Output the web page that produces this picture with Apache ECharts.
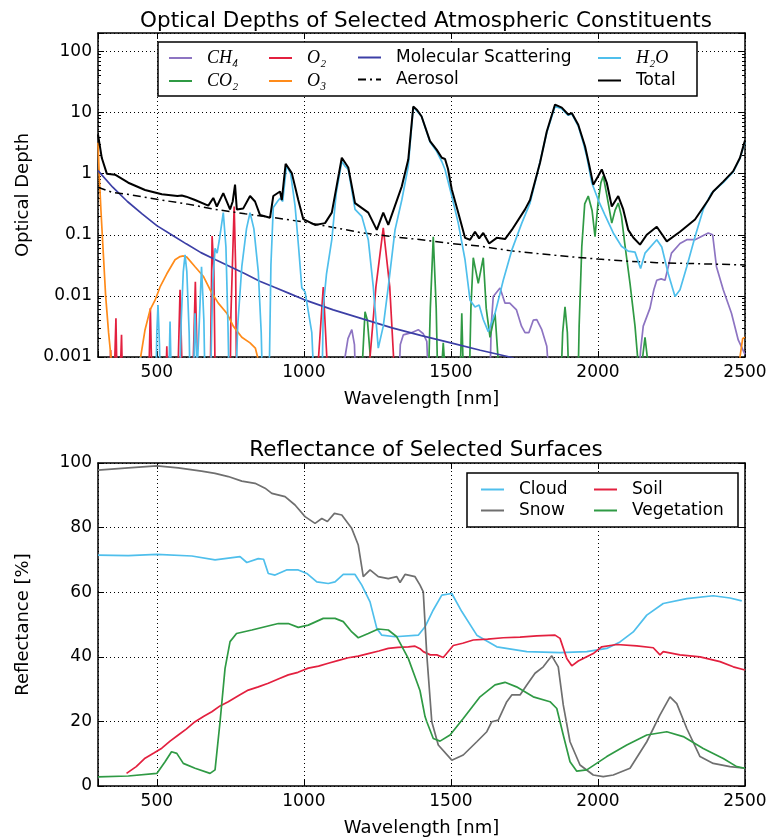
<!DOCTYPE html>
<html><head><meta charset="utf-8">
<script src="https://cdn.jsdelivr.net/npm/echarts@6/dist/echarts.min.js"></script>
<style>html,body{margin:0;padding:0;background:#fff}#c{width:774px;height:838px}</style>
</head><body><div id="c"></div>
<script>
// ---------- tick labels ----------
const wavelengthTicks = [500, 1000, 1500, 2000, 2500];
const odTickLabels = ['0.001', '0.01', '0.1', '1', '10', '100'];
const reflTicks = [0, 20, 40, 60, 80, 100];

// ---------- optical depth series: [wavelength nm, optical depth] ----------
const ch4 = [[1125,1e-4],[1140,0.001],[1150,0.002],[1163,0.0028],[1172,0.0016],[1180,1e-4],
  [1318,1e-4],[1328,0.0016],[1338,0.0023],[1366,0.0025],[1389,0.0028],[1406,0.0024],[1418,0.0018],[1429,1e-4],
  [1630,1e-4],[1637,0.0032],[1644,0.0098],[1667,0.0135],[1684,0.0076],[1700,0.0076],[1723,0.0059],[1740,0.0032],[1752,0.0025],[1765,0.0025],[1780,0.004],[1792,0.0041],[1809,0.0028],[1826,0.0015],[1843,1e-4],
  [2132,1e-4],[2145,0.0013],[2154,0.0032],[2177,0.0063],[2190,0.0126],[2200,0.018],[2215,0.019],[2228,0.018],[2250,0.050],[2279,0.072],[2302,0.083],[2330,0.083],[2350,0.093],[2375,0.107],[2390,0.1],[2403,0.030],[2426,0.0126],[2454,0.0052],[2477,0.0019],[2500,0.0011]];

const co2 = [[1190,1e-4],[1200,0.001],[1208,0.0055],[1216,0.004],[1226,0.001],[1236,1e-4],
  [1420,1e-4],[1430,0.0063],[1440,0.093],[1450,0.0063],[1458,1e-4],[1468,6e-4],[1474,0.0017],[1480,6e-4],[1488,1e-4],
  [1528,1e-4],[1537,0.0052],[1546,1e-4],[1560,1e-4],[1568,0.0063],[1576,0.042],[1593,0.016],[1610,0.042],[1620,0.0063],[1633,0.0021],[1650,0.0052],[1660,0.001],[1668,1e-4],
  [1870,1e-4],[1880,0.0025],[1888,0.0066],[1896,0.0025],[1905,1e-4],
  [1930,1e-4],[1936,0.0032],[1945,0.063],[1955,0.32],[1967,0.43],[1980,0.25],[1990,0.093],[2000,0.32],[2010,0.71],[2018,0.91],[2030,0.45],[2047,0.155],[2058,0.25],[2069,0.33],[2080,0.2],[2090,0.079],[2109,0.016],[2126,0.0032],[2140,5e-4],[2146,1e-4],[2152,0.001],[2160,0.0021],[2170,8e-4],[2178,1e-4]];

const o2 = [[335,1e-4],[343,0.0013],[350,1e-4],[356,6e-4],[361,0.0043],[367,1e-4],[375,4e-4],[380,0.0023],[386,1e-4],
  [470,1e-4],[478,0.0063],[486,1e-4],[527,1e-4],[534,0.0015],[540,1e-4],[568,1e-4],[579,0.0126],[590,1e-4],
  [619,1e-4],[631,0.017],[642,1e-4],[680,1e-4],[688,0.095],[694,0.025],[700,1e-4],
  [748,1e-4],[752,0.005],[757,0.005],[763,0.29],[768,0.03],[772,1e-4],
  [1040,1e-4],[1050,0.001],[1066,0.014],[1078,0.001],[1090,1e-4],
  [1205,1e-4],[1225,0.001],[1245,0.014],[1270,0.13],[1292,0.014],[1305,0.001],[1318,1e-4]];

const o3 = [[300,3.2],[304,1.0],[310,0.25],[318,0.05],[326,0.01],[336,0.0025],[346,8e-4],[352,1e-4],
  [430,1e-4],[445,0.001],[460,0.0028],[477,0.0059],[494,0.0085],[511,0.014],[534,0.023],[562,0.039],[579,0.044],[590,0.045],[602,0.043],[630,0.030],[658,0.021],[681,0.0126],[709,0.0076],[738,0.0052],[760,0.0032],[789,0.0021],[817,0.0017],[835,0.0014],[845,9e-4],[860,1e-4],
  [2470,1e-4],[2483,0.001],[2492,0.002],[2500,0.0021]];

const molecular = [[300,1.12],[350,0.60],[400,0.35],[450,0.22],[500,0.141],[550,0.100],[600,0.071],[650,0.051],[700,0.039],[750,0.030],[800,0.023],[850,0.0174],[900,0.0138],[950,0.0110],[1000,0.0087],[1100,0.0059],[1200,0.0042],[1300,0.0030],[1400,0.00224],[1500,0.0017],[1600,0.00129],[1700,0.00100],[1720,0.00093]];

const aerosol = [[300,0.60],[350,0.49],[400,0.46],[500,0.38],[600,0.32],[700,0.26],[800,0.22],[900,0.19],[1000,0.162],[1100,0.132],[1200,0.107],[1300,0.093],[1400,0.083],[1500,0.072],[1600,0.065],[1700,0.055],[1800,0.049],[1900,0.044],[2000,0.040],[2100,0.037],[2200,0.035],[2300,0.034],[2400,0.033],[2500,0.032]];

const h2o = [[435,1e-4],[444,0.001],[452,1e-4],[495,1e-4],[500,0.0025],[504,0.0071],[509,0.0016],[514,1e-4],[538,1e-4],[545,0.0038],[552,1e-4],
  [575,1e-4],[583,0.004],[590,0.025],[596,0.047],[602,0.025],[610,0.0025],[615,1e-4],[622,1e-4],[630,0.0052],[637,6e-4],[643,0.0025],[652,0.030],[660,0.004],[666,1e-4],
  [680,1e-4],[690,0.016],[698,0.060],[705,0.050],[712,0.079],[726,0.23],[735,0.063],[742,0.0032],[748,1e-4],[765,1e-4],[775,0.0032],[789,0.030],[805,0.126],[817,0.23],[830,0.126],[845,0.025],[855,0.0025],[862,1e-4],
  [880,1e-4],[888,0.032],[896,0.28],[912,0.36],[920,0.40],[928,0.35],[941,1.35],[955,1.0],[970,0.30],[982,0.063],[993,0.0135],[1004,0.0117],[1027,0.0025],[1040,1e-4],
  [1060,1e-4],[1066,0.0066],[1077,0.023],[1095,0.083],[1110,0.48],[1129,1.58],[1140,1.32],[1151,1.17],[1174,0.26],[1197,0.20],[1219,0.083],[1236,0.014],[1253,0.0014],[1270,0.0032],[1287,0.014],[1310,0.12],[1333,0.37],[1355,1.32],[1372,12.3],[1385,10.5],[1400,8.7],[1429,3.3],[1452,2.3],[1469,1.58],[1480,1.17],[1503,0.43],[1525,0.155],[1548,0.039],[1565,0.0085],[1582,0.0066],[1596,0.0071],[1610,0.0041],[1627,0.0026],[1650,0.0052],[1667,0.011],[1678,0.018],[1707,0.056],[1741,0.155],[1769,0.33],[1797,1.17],[1826,4.7],[1854,12.6],[1877,11.5],[1899,9.0],[1911,9.5],[1933,6.0],[1950,3.2],[1962,1.9],[1979,0.71],[2001,0.37],[2024,0.21],[2052,0.107],[2080,0.065],[2103,0.054],[2126,0.052],[2145,0.028],[2160,0.05],[2200,0.083],[2217,0.063],[2239,0.023],[2262,0.0098],[2279,0.0126],[2302,0.030],[2330,0.093],[2358,0.26],[2386,0.48],[2426,0.71],[2460,1.07],[2483,1.78],[2500,3.3]];

const total = [[300,4.4],[313,1.8],[330,1.0],[358,0.96],[403,0.71],[460,0.54],[517,0.46],[570,0.43],[585,0.44],[600,0.42],[630,0.37],[675,0.30],[692,0.40],[704,0.29],[726,0.48],[749,0.26],[758,0.35],[766,0.66],[772,0.26],[794,0.27],[817,0.43],[834,0.35],[851,0.21],[885,0.19],[896,0.43],[919,0.51],[925,0.37],[938,1.45],[959,1.02],[981,0.37],[998,0.18],[1038,0.145],[1072,0.155],[1095,0.23],[1129,1.82],[1151,1.26],[1174,0.33],[1219,0.23],[1248,0.12],[1270,0.23],[1287,0.145],[1333,0.62],[1355,1.7],[1372,12.5],[1385,11.0],[1400,8.7],[1429,3.4],[1452,2.45],[1469,1.82],[1480,1.74],[1490,1.2],[1503,0.55],[1525,0.23],[1548,0.089],[1565,0.083],[1582,0.112],[1596,0.087],[1610,0.107],[1630,0.072],[1656,0.089],[1684,0.085],[1707,0.12],[1752,0.26],[1769,0.37],[1803,1.51],[1826,4.9],[1854,13.5],[1877,12.0],[1899,9.3],[1911,9.8],[1933,6.3],[1956,2.8],[1970,1.4],[1984,0.66],[2000,0.9],[2013,1.17],[2030,0.71],[2047,0.29],[2069,0.43],[2086,0.26],[2103,0.12],[2120,0.09],[2143,0.069],[2166,0.10],[2200,0.135],[2234,0.078],[2279,0.112],[2330,0.178],[2375,0.37],[2392,0.51],[2426,0.74],[2460,1.10],[2483,1.82],[2500,3.5]];

// ---------- reflectance series: [wavelength nm, reflectance %] ----------
const cloud = [[300,71.5],[403,71.3],[500,71.7],[619,71.2],[698,70.0],[783,71.0],[806,69.2],[845,70.4],[863,70.2],[879,65.8],[902,65.3],[941,66.9],[981,66.9],[1010,65.8],[1044,63.2],[1083,62.7],[1106,63.2],[1134,65.5],[1174,65.5],[1197,62.2],[1225,57.0],[1248,48.8],[1265,46.7],[1310,46.2],[1389,46.7],[1412,49.3],[1440,54.5],[1469,59.1],[1503,59.6],[1537,54.0],[1588,46.7],[1656,43.1],[1758,41.6],[1871,41.3],[1962,41.6],[2030,42.6],[2075,44.6],[2120,47.7],[2166,52.9],[2222,56.5],[2302,58.0],[2392,58.9],[2449,58.2],[2489,57.3]];

const snow = [[300,97.8],[403,98.5],[500,99.1],[573,98.5],[652,97.5],[698,96.8],[743,95.8],[789,94.4],[834,93.7],[868,92.2],[891,90.6],[936,89.6],[970,87.0],[1004,83.4],[1038,81.3],[1061,82.8],[1080,81.9],[1104,84.4],[1129,83.9],[1163,79.7],[1185,74.6],[1202,64.8],[1225,66.9],[1253,64.8],[1287,64.2],[1316,64.8],[1327,63.0],[1344,65.5],[1378,64.8],[1395,62.2],[1406,60.1],[1418,40.6],[1435,19.9],[1457,12.7],[1503,8.0],[1542,9.6],[1588,13.7],[1622,16.8],[1639,19.9],[1661,20.4],[1690,26.1],[1707,28.2],[1735,28.2],[1758,31.3],[1786,34.9],[1814,36.9],[1843,40.3],[1865,36.9],[1882,25.1],[1905,13.7],[1939,6.5],[1984,3.4],[2018,2.9],[2052,3.4],[2109,5.5],[2166,13.7],[2211,22.0],[2245,27.6],[2268,25.5],[2302,17.8],[2347,9.1],[2392,7.0],[2449,6.0],[2500,5.5]];

const soil = [[397,3.9],[430,6.0],[460,8.6],[490,10.2],[517,11.7],[545,13.9],[573,15.8],[600,17.6],[630,19.9],[660,21.6],[687,23.0],[715,24.8],[743,26.1],[780,28.1],[811,29.7],[845,30.7],[879,31.8],[915,33.2],[947,34.4],[980,35.2],[1015,36.5],[1050,37.1],[1083,38.0],[1118,38.9],[1151,39.7],[1185,40.2],[1219,41.0],[1255,41.8],[1287,42.6],[1320,42.9],[1355,43.1],[1378,43.3],[1395,42.5],[1406,41.6],[1430,40.6],[1452,40.6],[1474,39.8],[1508,43.5],[1540,44.2],[1576,45.2],[1625,45.5],[1678,45.9],[1735,46.1],[1792,46.5],[1854,46.7],[1871,45.7],[1894,39.5],[1911,37.2],[1933,38.7],[1984,41.0],[2013,43.1],[2064,43.8],[2132,43.4],[2188,42.8],[2211,40.6],[2222,41.6],[2279,40.6],[2347,40.0],[2415,38.5],[2460,36.9],[2500,35.9]];

const vegetation = [[300,2.8],[403,3.1],[500,3.9],[528,7.5],[550,10.6],[568,10.1],[590,7.0],[630,5.5],[681,3.9],[698,5.0],[715,19.9],[732,36.4],[749,44.7],[771,47.2],[823,48.3],[913,50.3],[947,50.3],[981,49.1],[1015,49.8],[1066,51.9],[1106,51.9],[1134,50.9],[1163,47.7],[1185,45.9],[1219,47.2],[1253,48.6],[1287,48.3],[1316,46.2],[1355,39.5],[1384,32.3],[1395,29.5],[1412,21.5],[1418,19.9],[1440,14.7],[1463,13.9],[1497,15.8],[1542,20.9],[1599,27.6],[1650,31.3],[1684,32.1],[1723,30.7],[1780,27.6],[1837,26.1],[1860,24.0],[1882,15.8],[1905,7.5],[1928,4.6],[1962,5.0],[2030,9.1],[2098,12.7],[2166,15.8],[2234,16.8],[2290,15.3],[2358,11.6],[2426,8.5],[2472,6.0],[2500,5.5]];

// ---------- styling ----------
const FONT = 'DejaVu Sans';
const MATH = "'Liberation Serif', 'DejaVu Serif', serif";
const COL = {ch4:'#8d74c2', co2:'#2f9a44', o2:'#e3203f', o3:'#ff8b1a', mol:'#3c3fa6', h2o:'#4fbfec', tot:'#000000', snow:'#6f6f6f'};
const formulaNames = ['CH₄','CO₂','O₂','O₃','H₂O'];

const minorLog = [];
for (let e = -3; e <= 2; e++) for (let m = 2; m <= 9; m++) { const v = m * Math.pow(10, e); if (v <= 200) minorLog.push(+v.toPrecision(3)); }

const blackLine = {show:true, onZero:false, lineStyle:{color:'#000', width:1.5}};
const dotted = {show:true, lineStyle:{color:'#000', width:1, type:[1,3]}};
const tickIn = {show:true, inside:true, length:6, lineStyle:{color:'#000', width:1}};
const labelStyle = {fontSize:17, fontFamily:FONT, color:'#000'};
const wlFmt = v => (wavelengthTicks.indexOf(Math.round(v)) >= 0 && Math.abs(v - Math.round(v)) < 1e-6) ? String(Math.round(v)) : '';
const odFmt = v => { const l = Math.log10(v), r = Math.round(l); return Math.abs(l - r) < 1e-6 ? (odTickLabels[r + 3] || '') : ''; };
const rfFmt = v => reflTicks.indexOf(Math.round(v)) >= 0 ? String(Math.round(v)) : '';

function xAx(grid, pos, labels) {
  const a = {gridIndex:grid, type:'value', min:300, max:2500, splitNumber:4, position:pos,
    axisLine:blackLine, axisTick:tickIn, splitLine: labels ? dotted : {show:false},
    axisLabel: labels ? Object.assign({formatter:wlFmt, margin:7}, labelStyle) : {show:false}};
  if (labels) Object.assign(a, {name:'Wavelength [nm]', nameLocation:'middle', nameGap:33,
    nameTextStyle:{fontSize:18, fontFamily:FONT, color:'#000'}});
  return a;
}
function logAx(pos, labels) {
  const a = {gridIndex:0, type:'log', logBase:10, min:0.001, max:200, position:pos,
    axisLine:blackLine, axisTick:tickIn, splitLine: labels ? dotted : {show:false},
    axisLabel: labels ? Object.assign({formatter:odFmt, margin:6}, labelStyle) : {show:false}};
  if (labels) Object.assign(a, {name:'Optical Depth', nameLocation:'middle', nameGap:66,
    nameTextStyle:{fontSize:18, fontFamily:FONT, color:'#000'}});
  return a;
}
function minorAx(pos) {
  return {gridIndex:0, type:'log', logBase:10, min:0.001, max:200, position:pos,
    axisLine:{show:false}, splitLine:{show:false}, axisLabel:{show:false},
    axisTick:{show:true, inside:true, length:3, customValues:minorLog, lineStyle:{color:'#000', width:1}}};
}
function linAx(pos, labels) {
  const a = {gridIndex:1, type:'value', min:0, max:100, interval:20, position:pos,
    axisLine:blackLine, axisTick:tickIn, splitLine: labels ? dotted : {show:false},
    axisLabel: labels ? Object.assign({formatter:rfFmt, margin:6}, labelStyle) : {show:false}};
  if (labels) Object.assign(a, {name:'Reflectance [%]', nameLocation:'middle', nameGap:66,
    nameTextStyle:{fontSize:18, fontFamily:FONT, color:'#000'}});
  return a;
}

function ser(name, data, color, xi, yi, extra) {
  return Object.assign({type:'line', name, data, xAxisIndex:xi, yAxisIndex:yi, symbol:'none', showSymbol:false,
    clip:true, animation:false, smooth:false, z:2,
    lineStyle:{color, width:1.7}, itemStyle:{color}, emphasis:{disabled:true}}, extra || {});
}

function legend(names, left, top, gap) {
  return {data:names, orient:'vertical', left, top, padding:0, itemWidth:23, itemHeight:12, itemGap:gap,
    selectedMode:false, z:5, itemStyle:{opacity:0},
    formatter: n => formulaNames.indexOf(n) >= 0 ? '{f|' + n + '}' : n,
    textStyle:{fontSize:17, fontFamily:FONT, color:'#000', lineHeight:17, padding:[0,0,0,10],
      rich:{f:{fontSize:18, fontFamily:MATH, fontStyle:'italic', color:'#000', lineHeight:17}}}};
}

const chart = echarts.init(document.getElementById('c'), null, {renderer:'canvas'});
chart.setOption({
  animation:false,
  backgroundColor:'#fff',
  title:[
    {text:'Optical Depths of Selected Atmospheric Constituents', left:421, top:5, textAlign:'center',
      textStyle:{fontSize:21.5, fontWeight:'normal', fontFamily:FONT, color:'#000'}},
    {text:'Reflectance of Selected Surfaces', left:421, top:434, textAlign:'center',
      textStyle:{fontSize:21.5, fontWeight:'normal', fontFamily:FONT, color:'#000'}}
  ],
  grid:[
    {left:98, right:29, top:33, height:324},
    {left:98, right:29, top:463, height:323}
  ],
  xAxis:[xAx(0,'bottom',true), xAx(0,'top',false), xAx(1,'bottom',true), xAx(1,'top',false)],
  yAxis:[logAx('left',true), logAx('right',false), minorAx('left'), minorAx('right'), linAx('left',true), linAx('right',false)],
  legend:[
    legend(['CH₄','CO₂'], 168, 49, 5),
    legend(['O₂','O₃'], 268, 49, 5),
    legend(['Molecular Scattering','Aerosol'], 357, 49, 5),
    legend(['H₂O','Total'], 597, 49, 5),
    legend(['Cloud','Snow'], 480, 481, 4),
    legend(['Soil','Vegetation'], 593, 481, 4)
  ],
  graphic:[
    {type:'rect', z:3, shape:{x:158, y:42, width:539, height:54}, style:{fill:'#fff', stroke:'#000', lineWidth:1.5}},
    {type:'rect', z:3, shape:{x:467, y:473, width:271, height:54}, style:{fill:'#fff', stroke:'#000', lineWidth:1.5}}
  ],
  series:[
    ser('CH₄', ch4, COL.ch4, 0, 0),
    ser('CO₂', co2, COL.co2, 0, 0),
    ser('O₂', o2, COL.o2, 0, 0),
    ser('O₃', o3, COL.o3, 0, 0),
    ser('Molecular Scattering', molecular, COL.mol, 0, 0),
    ser('Aerosol', aerosol, '#000', 0, 0, {lineStyle:{color:'#000', width:1.5, type:[8,4,2,4]}}),
    ser('H₂O', h2o, COL.h2o, 0, 0),
    ser('Total', total, COL.tot, 0, 0, {lineStyle:{color:'#000', width:2}}),
    ser('Cloud', cloud, COL.h2o, 2, 4),
    ser('Soil', soil, COL.o2, 2, 4),
    ser('Snow', snow, COL.snow, 2, 4),
    ser('Vegetation', vegetation, COL.co2, 2, 4)
  ]
});
</script></body></html>
